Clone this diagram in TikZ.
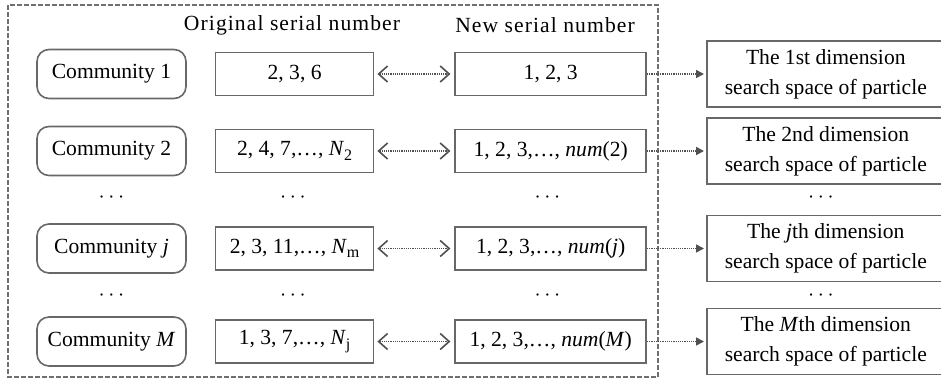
\documentclass[tikz,border=0pt]{standalone}
\usepackage{fontspec}
\setmainfont{Liberation Serif}
\usepackage{tikz}
\usetikzlibrary{positioning, arrows.meta}
\definecolor{boxGray}{HTML}{686868}
\definecolor{frameGray}{HTML}{707070}
\definecolor{arrowGray}{HTML}{505050}
\newcommand{\serN}[2]{\textit{#1}\raisebox{-0.45ex}{\fontsize{8}{8}\selectfont#2}}

\begin{document}
\begin{tikzpicture}[x=0.5pt, y=-0.5pt, font=\fontsize{10.8}{13}\selectfont,
comm/.style={draw=boxGray, line width=0.8pt, rounded corners=6pt, minimum width=74.5pt, minimum height=24.5pt, inner sep=0pt},
ser/.style={draw=boxGray, line width=0.8pt, minimum height=21.5pt, inner sep=0pt},
origbox/.style={ser, minimum width=79pt},
newbox/.style={ser, minimum width=95.5pt},
dimbox/.style={draw=boxGray, line width=0.8pt, minimum width=119pt, minimum height=33pt, align=center, inner sep=0pt, font=\fontsize{10.8}{15}\selectfont},
hdr/.style={font=\fontsize{10.8}{13}\selectfont\addfontfeature{LetterSpace=5}},
ell/.style={inner sep=0pt},
pairarr/.style={{Straight Barb[length=4.5pt,width=8pt]}-{Straight Barb[length=4.5pt,width=8pt]}, draw=arrowGray, line width=0.8pt, dash pattern=on 0.6pt off 0.5pt},
maparr/.style={-{Triangle[length=4pt,width=4pt]}, draw=arrowGray, line width=0.8pt, dash pattern=on 0.6pt off 0.5pt, shorten >=1pt}]
\useasboundingbox (0,0) rectangle (941,380);
\draw[frameGray, line width=0.6pt, dash pattern=on 2.5pt off 1pt] (8,5) rectangle (658,377);
\node[hdr] (hOrig) at (292,25) {Original serial number};
\node[hdr] (hNew) at (545,25) {New serial number};
% row 1
\node[comm] (c1) at (111.5,74) {Community 1};
\node[origbox, right=14pt of c1] (o1) {2, 3, 6};
\node[newbox, right=40pt of o1] (n1) {1, 2, 3};
\node[dimbox, right=29.5pt of n1] (d1) {The 1st dimension\\search space of particle};
% row 2
\node[comm] (c2) at (111.5,151) {Community 2};
\node[origbox, right=14pt of c2] (o2) {2, 4, 7,\dots, \serN{N}{2}};
\node[newbox, right=40pt of o2] (n2) {1, 2, 3,\dots, \textit{num}(2)};
\node[dimbox, right=29.5pt of n2] (d2) {The 2nd dimension\\search space of particle};
% row j
\node[comm] (c3) at (111.5,248.5) {Community \textit{j}};
\node[origbox, right=14pt of c3] (o3) {2, 3, 11,\dots, \serN{N}{m}};
\node[newbox, right=40pt of o3] (n3) {1, 2, 3,\dots, \textit{num}(\textit{j})};
\node[dimbox, right=29.5pt of n3] (d3) {The \textit{j}th dimension\\search space of particle};
% row M
\node[comm] (c4) at (111.5,341.5) {Community \textit{M}};
\node[origbox, right=14pt of c4] (o4) {1, 3, 7,\dots, \serN{N}{j}};
\node[newbox, right=40pt of o4] (n4) {1, 2, 3,\dots, \textit{num}(\textit{M})};
\node[dimbox, right=29.5pt of n4] (d4) {The \textit{M}th dimension\\search space of particle};
% ellipses
\node[ell] (e1) at (111.5,198) {$\cdots$}; \node[ell] (e2) at (293,198) {$\cdots$};
\node[ell] (e3) at (547.5,198) {$\cdots$}; \node[ell] (e4) at (821,198) {$\cdots$};
\node[ell] (e5) at (111.5,296) {$\cdots$}; \node[ell] (e6) at (293,296) {$\cdots$};
\node[ell] (e7) at (547.5,296) {$\cdots$}; \node[ell] (e8) at (821,296) {$\cdots$};
% arrows
\draw[pairarr] ([xshift=1.5pt]o1.east) -- ([xshift=-2pt]n1.west);
\draw[pairarr] ([xshift=1.5pt]o2.east) -- ([xshift=-2pt]n2.west);
\draw[pairarr] ([xshift=1.5pt]o3.east) -- ([xshift=-2pt]n3.west);
\draw[pairarr] ([xshift=1.5pt]o4.east) -- ([xshift=-2pt]n4.west);
\draw[maparr] (n1.east) -- (d1.west);
\draw[maparr] (n2.east) -- (d2.west);
\draw[maparr] (n3.east) -- (d3.west);
\draw[maparr] (n4.east) -- (d4.west);
\end{tikzpicture}
\end{document}
